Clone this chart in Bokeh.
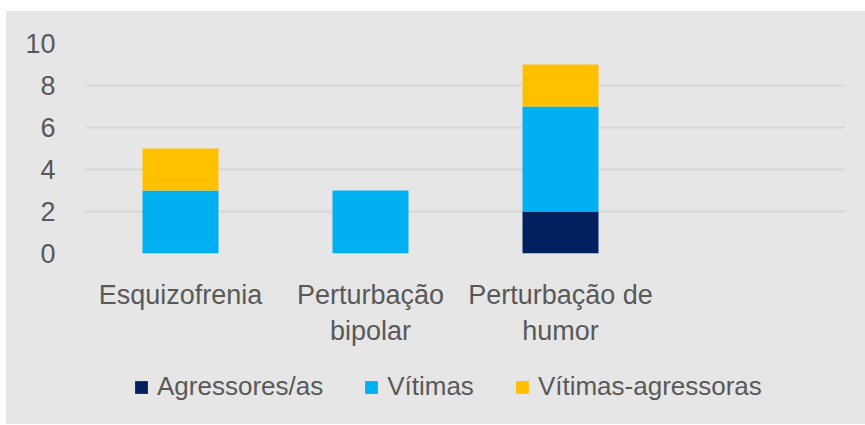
from bokeh.plotting import figure
from bokeh.layouts import column
from bokeh.models import FactorRange, Range1d, FixedTicker, Legend, LegendItem
from bokeh.embed import file_html
from bokeh.resources import INLINE

categories = ["Esquizofrenia", "Perturbação\nbipolar", "Perturbação de\nhumor", " "]
series_names = ["Agressores/as", "Vítimas", "Vítimas-agressoras"]
agressores = [0, 0, 2, 0]
vitimas = [3, 3, 5, 0]
vitimas_agressoras = [2, 0, 2, 0]
y_ticks = [0, 2, 4, 6, 8, 10]

colors = ["#002060", "#00B0F0", "#FFC000"]
FONT = "Liberation Sans"
TEXT = "#595959"
BG = "#e6e6e6"

data = dict(cat=categories, a=agressores, v=vitimas, va=vitimas_agressoras)

p = figure(frame_width=760, frame_height=210, x_range=FactorRange(factors=categories),
           y_range=Range1d(0, 10), output_backend="svg", toolbar_location=None,
           min_border_left=79, min_border_right=20, min_border_top=32, min_border_bottom=0)
p.background_fill_color = BG
p.border_fill_color = BG
p.outline_line_color = None

rs = p.vbar_stack(["a", "v", "va"], x="cat", width=0.4, color=colors, source=data, line_color=None)

p.xgrid.grid_line_color = None
p.ygrid.grid_line_color = "#d6d6d6"
p.ygrid.grid_line_width = 2
p.yaxis.ticker = FixedTicker(ticks=y_ticks)

for ax in (p.xaxis[0], p.yaxis[0]):
    ax.axis_line_color = None
    ax.major_tick_line_color = None
    ax.minor_tick_line_color = None
    ax.major_label_text_font = FONT
    ax.major_label_text_color = TEXT
    ax.major_label_text_font_size = "27px"
p.yaxis.major_label_standoff = 24
p.xaxis.major_label_standoff = 20

# legend strip below the chart
p2 = figure(width=859, height=76, x_range=(0, 1), y_range=(0, 1), output_backend="svg",
            toolbar_location=None, x_axis_type=None, y_axis_type=None, min_border=0)
p2.background_fill_color = BG
p2.border_fill_color = BG
p2.outline_line_color = None
p2.grid.grid_line_color = None
swatches = [p2.vbar(x=[0.5], top=[0], bottom=[0], width=0, color=c, line_color=None) for c in colors]

legend = Legend(items=[LegendItem(label=n, renderers=[r]) for n, r in zip(series_names, swatches)],
                orientation="horizontal", location=(48, 22),
                glyph_width=16, glyph_height=16, label_standoff=8, spacing=40,
                padding=0, margin=0, border_line_color=None, background_fill_alpha=0,
                label_text_font=FONT, label_text_color=TEXT, label_text_font_size="26px")
p2.add_layout(legend, "center")

layout = column(p, p2, spacing=0, margin=(11, 0, 0, 6), styles={"background-color": BG})
open("out.html", "w").write(file_html(layout, INLINE))
